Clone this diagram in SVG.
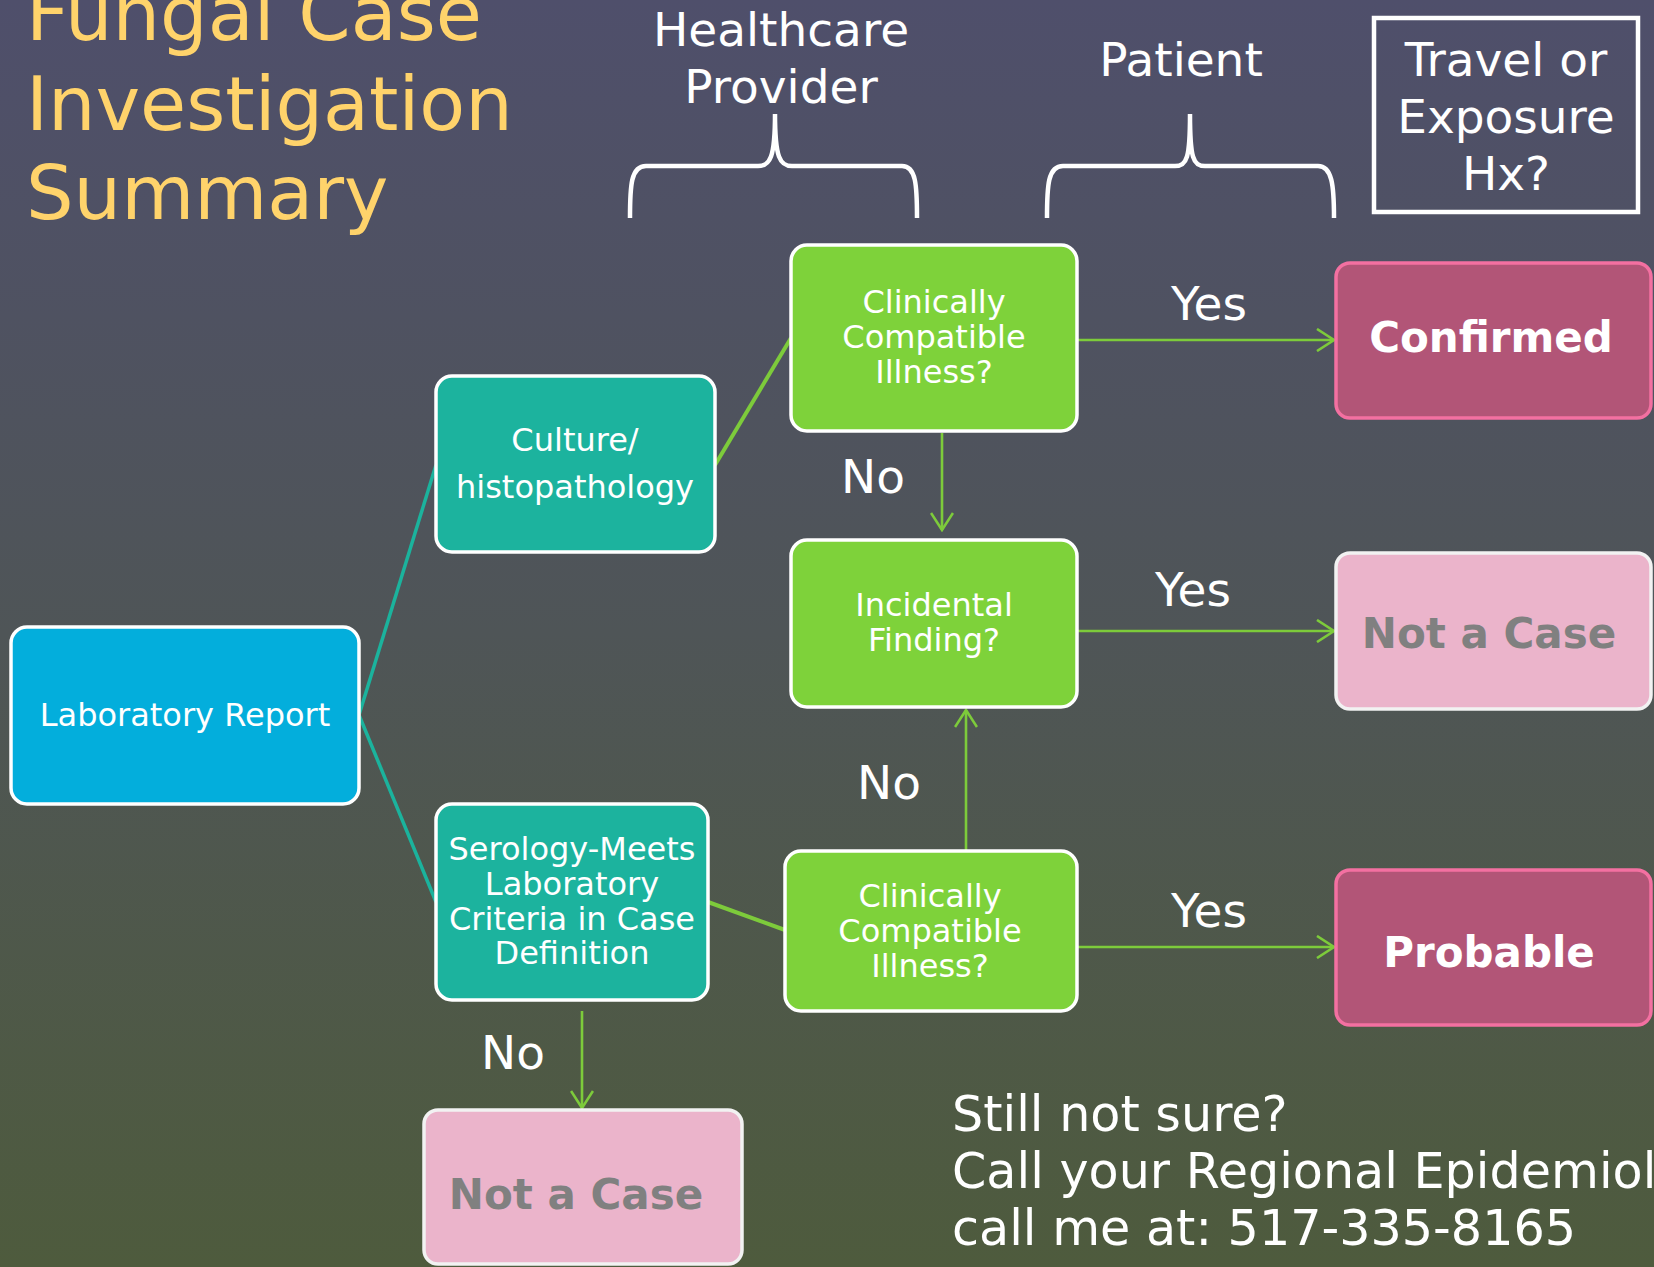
<svg xmlns="http://www.w3.org/2000/svg" width="1654" height="1267" viewBox="0 0 1654 1267">
<defs>
<linearGradient id="bg" x1="0" y1="0" x2="0" y2="1">
<stop offset="0" stop-color="#4F4F6B"/>
<stop offset="0.5" stop-color="#4F5557"/>
<stop offset="1" stop-color="#4E5B3D"/>
</linearGradient>
<marker id="arr" viewBox="0 0 20 24" refX="18" refY="12" markerWidth="20" markerHeight="24" markerUnits="userSpaceOnUse" orient="auto">
<path d="M1,1 L18,12 L1,23" fill="none" stroke="#7DCB3B" stroke-width="2.6"/>
</marker>
<style>
text{font-family:"DejaVu Sans","Liberation Sans",sans-serif;}
.title{fill:#FFD36B;font-size:75px;}
.head{fill:#FFFFFF;font-size:47px;text-anchor:middle;}
.lbl{fill:#FFFFFF;font-size:47px;text-anchor:middle;}
.nt{fill:#FFFFFF;font-size:32px;text-anchor:middle;}
.bt{font-size:42px;font-weight:bold;text-anchor:middle;}
.note{fill:#FFFFFF;font-size:49.2px;}
.teal{fill:#1CB39E;stroke:#FFFFFF;stroke-width:3.5;}
.green{fill:#7ED23A;stroke:#FFFFFF;stroke-width:3.5;}
.blue{fill:#03AEDC;stroke:#FFFFFF;stroke-width:3.5;}
.dark{fill:#B25577;stroke:#F370A1;stroke-width:3.5;}
.light{fill:#EBB4CB;stroke:#F2F2F2;stroke-width:3.5;}
.brace{fill:none;stroke:#FFFFFF;stroke-width:4.5;}
.tl{fill:none;stroke:#1BB39D;stroke-width:3.5;}
.gl{fill:none;stroke:#7DCB3B;stroke-width:4;}
.ar{fill:none;stroke:#7DCB3B;stroke-width:2.6;marker-end:url(#arr);}
</style>
</defs>
<rect x="0" y="0" width="1654" height="1267" fill="url(#bg)"/>

<g id="title">
<text class="title" x="26" y="40">Fungal Case</text>
<text class="title" x="26" y="130">Investigation</text>
<text class="title" x="26" y="219">Summary</text>
</g>

<g id="header-healthcare">
<text class="head" x="781" y="46">Healthcare</text>
<text class="head" x="781" y="103">Provider</text>
<path class="brace" d="M630,218 C630,185 631,166 646,166 L758,166 C770,166 775,158 775,114 C775,158 780,166 792,166 L902,166 C916,166 917,185 917,218"/>
</g>

<g id="header-patient">
<text class="head" x="1181" y="76">Patient</text>
<path class="brace" d="M1047,218 C1047,185 1048,166 1063,166 L1175,166 C1187,166 1190,158 1190,114 C1190,158 1193,166 1205,166 L1318,166 C1332,166 1334,185 1334,218"/>
</g>

<g id="header-travel">
<rect x="1374" y="18" width="264" height="194" fill="none" stroke="#FFFFFF" stroke-width="4.5"/>
<text class="head" x="1506" y="76">Travel or</text>
<text class="head" x="1506" y="133">Exposure</text>
<text class="head" x="1506" y="190">Hx?</text>
</g>

<g id="connectors">
<line class="tl" x1="359" y1="715" x2="436" y2="465"/>
<line class="tl" x1="359" y1="715" x2="436" y2="902"/>
<line class="gl" x1="715" y1="465" x2="791" y2="338"/>
<line class="gl" x1="708" y1="902" x2="785" y2="930"/>
<line class="ar" x1="1077" y1="340" x2="1334" y2="340"/>
<line class="ar" x1="942" y1="433" x2="942" y2="530"/>
<line class="ar" x1="1077" y1="631" x2="1334" y2="631"/>
<line class="ar" x1="966" y1="851" x2="966" y2="710"/>
<line class="ar" x1="1077" y1="947" x2="1334" y2="947"/>
<line class="ar" x1="582" y1="1011" x2="582" y2="1108"/>
<text class="lbl" x="1209" y="320">Yes</text>
<text class="lbl" x="873" y="493">No</text>
<text class="lbl" x="1193" y="606">Yes</text>
<text class="lbl" x="889" y="799">No</text>
<text class="lbl" x="1209" y="927">Yes</text>
<text class="lbl" x="513" y="1069">No</text>
</g>

<g id="node-lab-report">
<rect class="blue" x="11" y="627" width="348" height="177" rx="16"/>
<text class="nt" x="185" y="726" font-size="33">Laboratory Report</text>
</g>

<g id="node-culture">
<rect class="teal" x="436" y="376" width="279" height="176" rx="16"/>
<text class="nt" x="575" y="451">Culture/</text>
<text class="nt" x="575" y="498">histopathology</text>
</g>

<g id="node-serology">
<rect class="teal" x="436" y="804" width="272" height="196" rx="16"/>
<text class="nt" x="572" y="860">Serology-Meets</text>
<text class="nt" x="572" y="895">Laboratory</text>
<text class="nt" x="572" y="930">Criteria in Case</text>
<text class="nt" x="572" y="964">Definition</text>
</g>

<g id="node-clinical-1">
<rect class="green" x="791" y="245" width="286" height="186" rx="16"/>
<text class="nt" x="934" y="313">Clinically</text>
<text class="nt" x="934" y="348">Compatible</text>
<text class="nt" x="934" y="383">Illness?</text>
</g>

<g id="node-incidental">
<rect class="green" x="791" y="540" width="286" height="167" rx="16"/>
<text class="nt" x="934" y="616">Incidental</text>
<text class="nt" x="934" y="651">Finding?</text>
</g>

<g id="node-clinical-2">
<rect class="green" x="785" y="851" width="292" height="160" rx="16"/>
<text class="nt" x="930" y="907">Clinically</text>
<text class="nt" x="930" y="942">Compatible</text>
<text class="nt" x="930" y="977">Illness?</text>
</g>

<g id="node-confirmed">
<rect class="dark" x="1336" y="263" width="315" height="155" rx="14"/>
<text class="bt" x="1491" y="352" fill="#FFFFFF">Confirmed</text>
</g>

<g id="node-not-a-case-1">
<rect class="light" x="1336" y="553" width="315" height="156" rx="14"/>
<text class="bt" x="1489" y="648" fill="#808080">Not a Case</text>
</g>

<g id="node-probable">
<rect class="dark" x="1336" y="870" width="315" height="155" rx="14"/>
<text class="bt" x="1489" y="967" fill="#FFFFFF">Probable</text>
</g>

<g id="node-not-a-case-2">
<rect class="light" x="424" y="1110" width="318" height="154" rx="14"/>
<text class="bt" x="576" y="1209" fill="#808080">Not a Case</text>
</g>

<g id="note">
<text class="note" x="952" y="1131">Still not sure?</text>
<text class="note" x="952" y="1188">Call your Regional Epidemiolo</text>
<text class="note" x="952" y="1245">call me at: 517-335-8165</text>
</g>
</svg>
